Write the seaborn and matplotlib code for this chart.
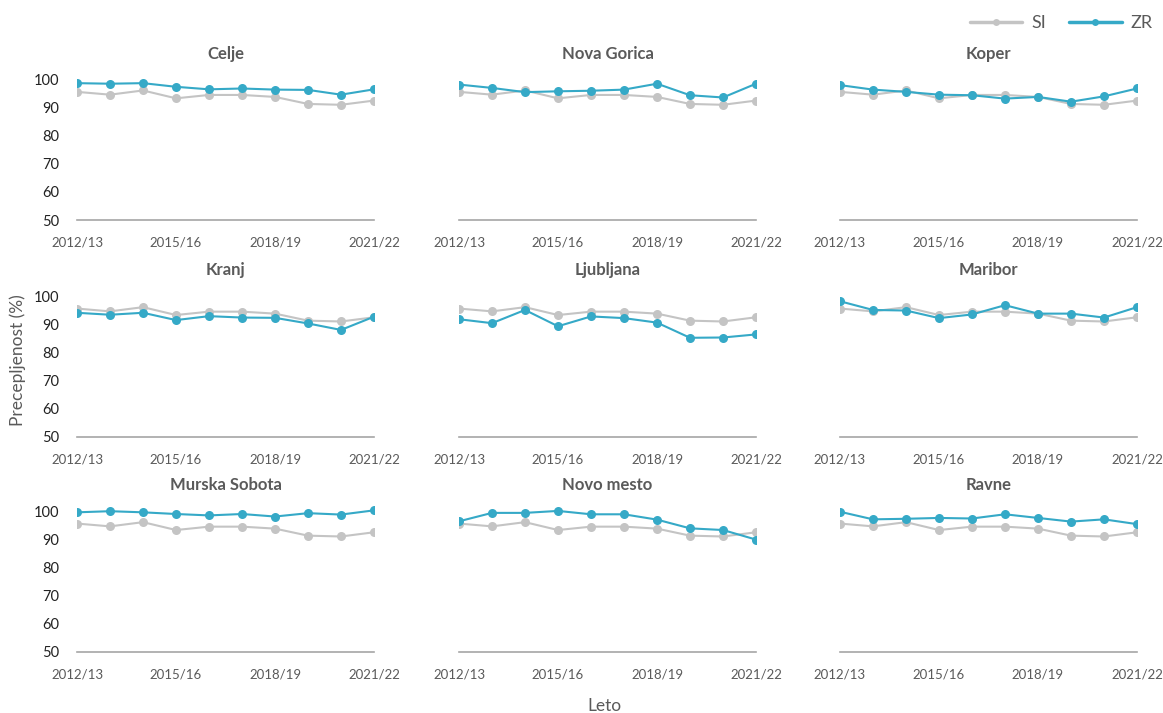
import matplotlib
matplotlib.use("Agg")
import matplotlib.pyplot as plt
from matplotlib.lines import Line2D
import pandas as pd
import seaborn as sns

sns.set_theme(style="white")
plt.rcParams["font.family"] = ["Lato", "DejaVu Sans"]

years = ["2012/13", "2013/14", "2014/15", "2015/16", "2016/17",
         "2017/18", "2018/19", "2019/20", "2020/21", "2021/22"]
shown_years = ["2012/13", "2015/16", "2018/19", "2021/22"]

regions = ["Celje", "Nova Gorica", "Koper",
           "Kranj", "Ljubljana", "Maribor",
           "Murska Sobota", "Novo mesto", "Ravne"]

# national average (SI)
si = [95.6, 94.6, 96.1, 93.3, 94.5, 94.5, 93.8, 91.3, 91.0, 92.5]

# regional values (ZR)
zr_celje = [98.7, 98.5, 98.7, 97.4, 96.5, 96.8, 96.4, 96.3, 94.6, 96.5]
zr_nova_gorica = [98.2, 97.0, 95.5, 95.8, 96.0, 96.4, 98.5, 94.4, 93.6, 98.5]
zr_koper = [98.0, 96.4, 95.6, 94.6, 94.4, 93.2, 93.8, 92.1, 94.0, 96.8]
zr_kranj = [94.1, 93.4, 94.1, 91.5, 92.9, 92.4, 92.3, 90.3, 88.0, 92.7]
zr_ljubljana = [91.8, 90.4, 95.1, 89.3, 92.8, 92.2, 90.6, 85.2, 85.3, 86.4]
zr_maribor = [98.2, 95.1, 94.9, 92.2, 93.5, 96.8, 93.8, 93.8, 92.4, 96.1]
zr_murska_sobota = [99.6, 100.0, 99.6, 99.0, 98.5, 99.0, 98.1, 99.3, 98.8, 100.3]
zr_novo_mesto = [96.4, 99.4, 99.4, 100.1, 98.9, 98.9, 97.0, 93.9, 93.3, 89.9]
zr_ravne = [99.8, 97.1, 97.3, 97.6, 97.4, 98.9, 97.6, 96.3, 97.1, 95.4]

zr_all = [zr_celje, zr_nova_gorica, zr_koper,
          zr_kranj, zr_ljubljana, zr_maribor,
          zr_murska_sobota, zr_novo_mesto, zr_ravne]

rows = []
for region, zr in zip(regions, zr_all):
    for i, year in enumerate(years):
        rows.append({"regija": region, "leto": i, "serija": "SI", "vrednost": si[i]})
        rows.append({"regija": region, "leto": i, "serija": "ZR", "vrednost": zr[i]})
df = pd.DataFrame(rows)

palette = {"SI": "#c4c4c4", "ZR": "#35a9c7"}
text_grey = "#5a5a5a"
axis_grey = "#a6a6a6"

W, H = 1163, 713
fig = plt.figure(figsize=(W / 100, H / 100), dpi=100)

col_left = [77, 459, 840]
row_bottom = [220, 436.7, 651.7]   # pixel row of the value 50
px_per_unit = 2.81
ax_w = 297
ymin, ymax = 50, 102

for k, region in enumerate(regions):
    r, c = divmod(k, 3)
    bottom_px = row_bottom[r]
    top_px = bottom_px - (ymax - ymin) * px_per_unit
    ax = fig.add_axes([col_left[c] / W, (H - bottom_px) / H,
                       ax_w / W, (bottom_px - top_px) / H])
    sub = df[df["regija"] == region]
    sns.lineplot(data=sub, x="leto", y="vrednost", hue="serija",
                 hue_order=["SI", "ZR"], palette=palette, marker="o",
                 markersize=6.5, markeredgewidth=0, linewidth=1.5,
                 legend=False, ax=ax, zorder=3)
    ax.set_xlim(0, len(years) - 1)
    ax.set_ylim(ymin, ymax)
    ax.set_xlabel("")
    ax.set_ylabel("")
    ax.set_xticks(range(len(years)))
    ax.set_xticklabels([y if y in shown_years else "" for y in years],
                       color=text_grey, fontsize=9.5)
    ax.tick_params(axis="x", length=6, width=1, color=axis_grey,
                   direction="out", pad=6)
    ax.set_yticks([50, 60, 70, 80, 90, 100])
    if c == 0:
        ax.set_yticklabels(["50", "60", "70", "80", "90", "100"],
                           color="#222222", fontsize=10.5)
        ax.tick_params(axis="y", length=0, pad=13)
    else:
        ax.set_yticklabels([])
        ax.tick_params(axis="y", length=0)
    for side in ["top", "right", "left"]:
        ax.spines[side].set_visible(False)
    ax.spines["bottom"].set_color(axis_grey)
    ax.spines["bottom"].set_linewidth(1.2)
    ax.grid(False)
    ax.set_title(region, fontsize=12, fontweight="bold", color=text_grey, pad=11)

fig.text(18 / W, 1 - 360 / H, "Precepljenost (%)", rotation=90,
         ha="center", va="center", fontsize=12.5, color=text_grey)
fig.text(604 / W, 1 - 706 / H, "Leto", ha="center", va="center",
         fontsize=12.5, color=text_grey)

handles = [Line2D([], [], color=palette[s], marker="o", markersize=5,
                  markeredgewidth=0, linewidth=2.5) for s in ["SI", "ZR"]]
fig.legend(handles, ["SI", "ZR"], loc="upper right",
           bbox_to_anchor=(1 + 6 / W, 1 + 1 / H), ncol=2, frameon=False,
           fontsize=13, labelcolor=text_grey, handlelength=2.9,
           columnspacing=1.3, handletextpad=0.5)

fig.savefig("out.png", dpi=100, facecolor="white")
